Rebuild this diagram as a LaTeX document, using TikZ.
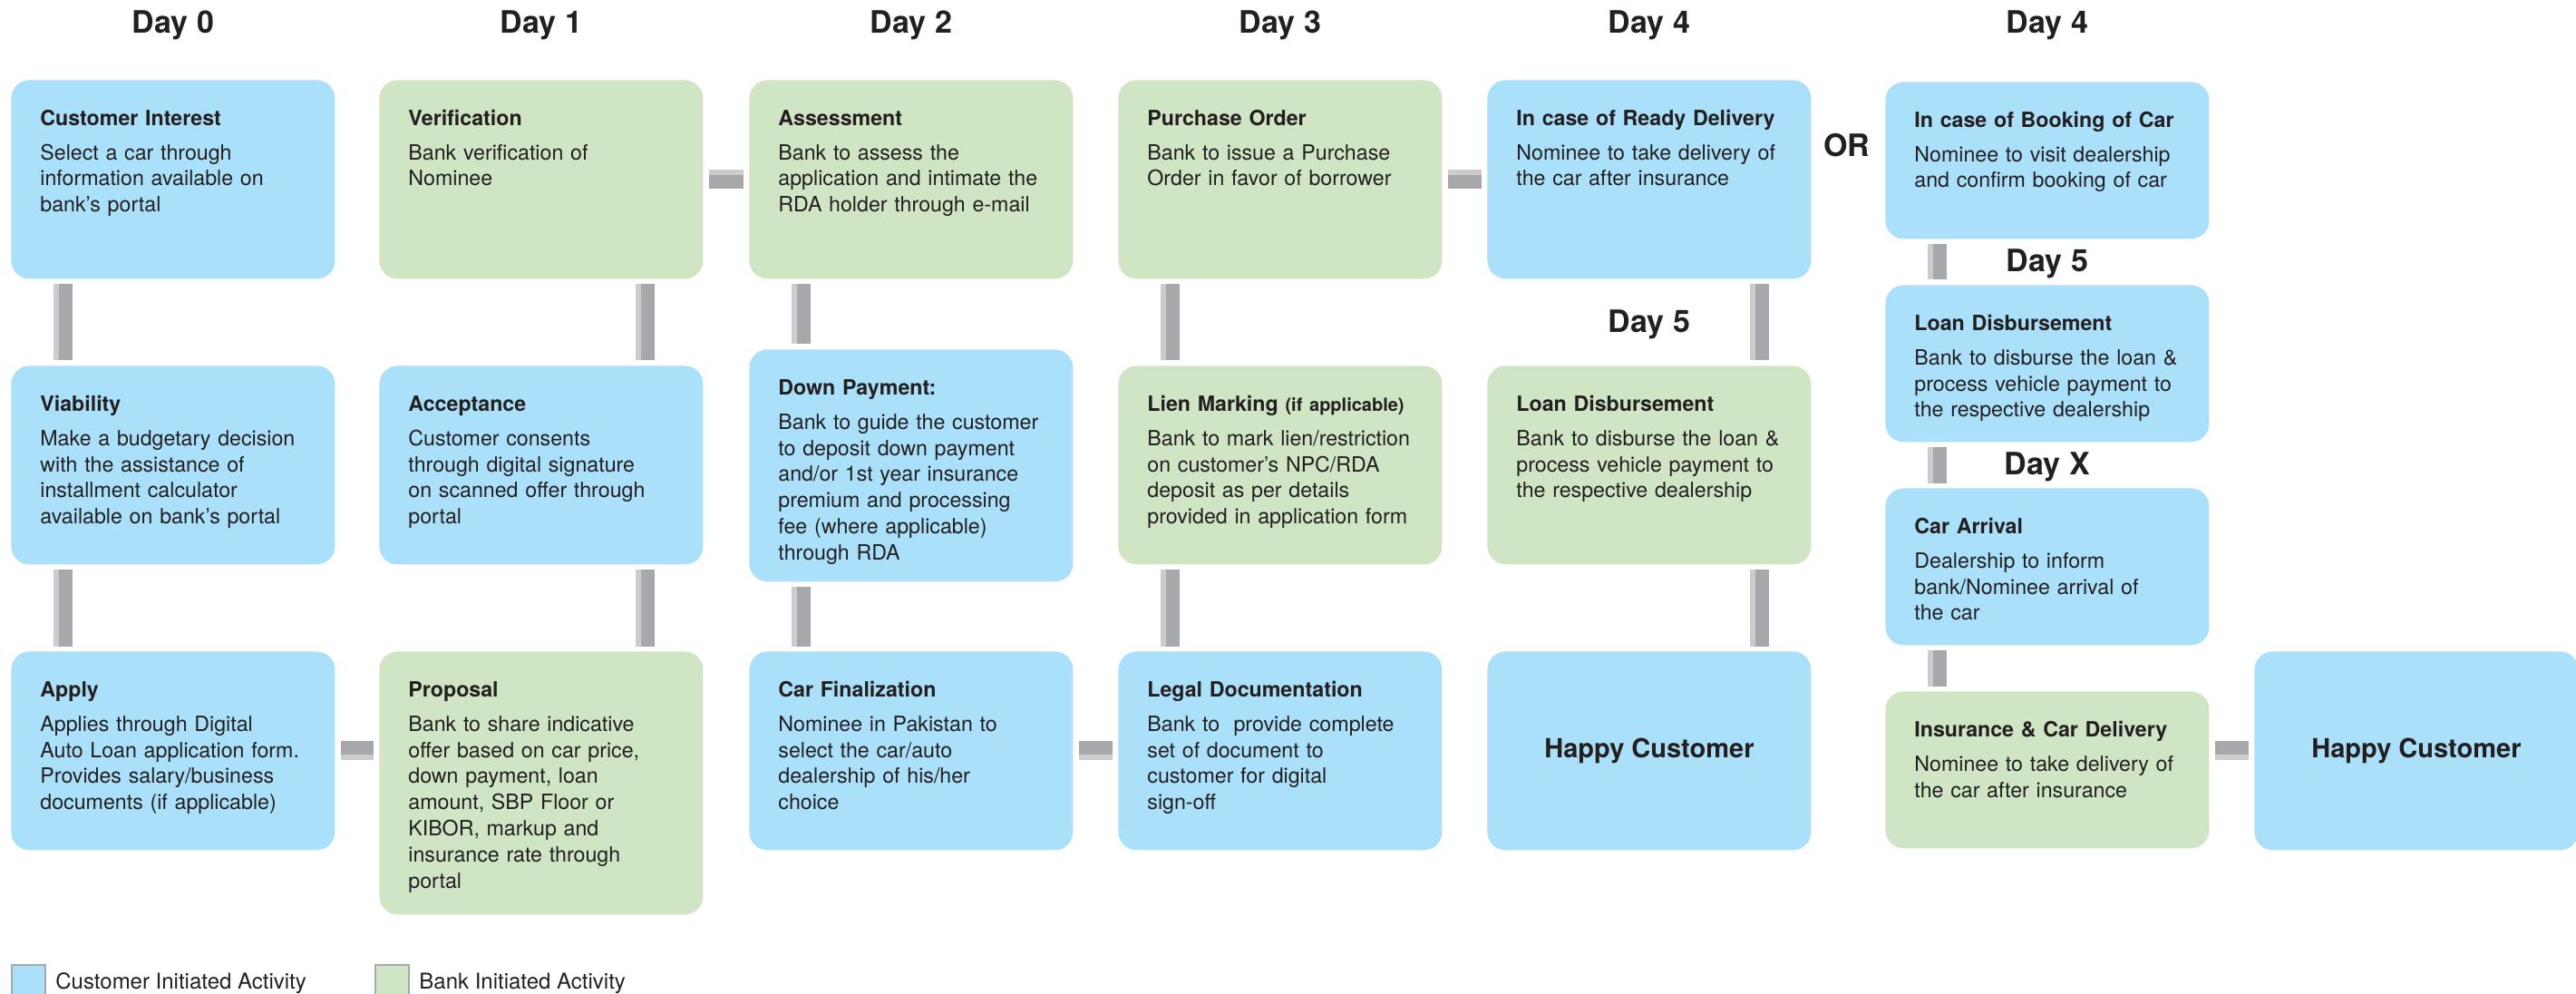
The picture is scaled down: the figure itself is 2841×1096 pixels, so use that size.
\documentclass[tikz,border=0pt]{standalone}
\usepackage{fontspec}
\setmainfont{TeX Gyre Heros}
\usetikzlibrary{positioning}

\definecolor{custblue}{HTML}{AAE0FA}
\definecolor{bankgreen}{HTML}{CFE5C3}
\definecolor{bargray}{HTML}{A7A8AB}
\definecolor{barlight}{HTML}{CBCCCE}
\definecolor{ink}{HTML}{231F20}

\begin{document}
\begin{tikzpicture}[x=0.5pt,y=-0.5pt]
\useasboundingbox (0,0) rectangle (2841,1096);

\tikzstyle{block} = [rectangle, rounded corners=10pt, anchor=north west,
text width=146.5pt, inner xsep=16pt, inner ysep=12pt, align=left,
text height=13pt, text depth=72.5pt, text=ink,
font=\fontsize{11.6}{14.4}\selectfont]
\tikzstyle{cust} = [block, fill=custblue]
\tikzstyle{bank} = [block, fill=bankgreen]
\tikzstyle{happy} = [rectangle, rounded corners=10pt, anchor=north west, fill=custblue,
minimum width=178.5pt, minimum height=109.5pt, text=ink,
font=\fontsize{14.5}{17}\selectfont\bfseries]
\tikzstyle{day} = [anchor=base, inner sep=0pt, text=ink, font=\fontsize{17}{20}\selectfont\bfseries]
\tikzstyle{vlink} = [draw=bargray, line width=10.5pt, shorten <=2.75pt, shorten >=2.75pt,
postaction={draw=barlight, line width=3pt, transform canvas={xshift=-3.75pt}}]
\tikzstyle{hlink_top} = [draw=bargray, line width=10.5pt, shorten <=3pt, shorten >=3pt,
postaction={draw=barlight, line width=3pt, transform canvas={yshift=3.75pt}}]
\tikzstyle{hlink_bot} = [draw=bargray, line width=10.5pt, shorten <=3pt, shorten >=3pt,
postaction={draw=barlight, line width=3pt, transform canvas={yshift=-3.75pt}}]
\tikzstyle{key} = [rectangle, anchor=north west, draw=bargray, line width=0.75pt,
minimum width=18.5pt, minimum height=24pt, inner sep=0pt]
\tikzstyle{keytext} = [anchor=base west, inner sep=0pt, text=ink, font=\fontsize{12}{14}\selectfont]

% column 1
\node[cust] (interest) at (12,88) {\textbf{Customer Interest}\\[4.5pt]
Select a car through\\ information available on\\ bank's portal};
\node[cust] (viability) at (12,403) {\textbf{Viability}\\[4.5pt]
Make a budgetary decision\\ with the assistance of\\ installment calculator\\ available on bank's portal};
\node[cust] (apply) at (12,718) {\textbf{Apply}\\[4.5pt]
Applies through Digital\\ Auto Loan application form.\\ Provides salary/business\\ documents (if applicable)};

% column 2
\node[bank] (verify) at (418,88) {\textbf{Verification}\\[4.5pt]
Bank verification of\\ Nominee};
\node[cust] (accept) at (418,403) {\textbf{Acceptance}\\[4.5pt]
Customer consents\\ through digital signature\\ on scanned offer through\\ portal};
\node[bank, text depth=108pt] (proposal) at (418,718) {\textbf{Proposal}\\[4.5pt]
Bank to share indicative\\ offer based on car price,\\ down payment, loan\\ amount, SBP Floor or\\
KIBOR, markup and\\ insurance rate through\\ portal};

% column 3
\node[bank] (assess) at (826,88) {\textbf{Assessment}\\[4.5pt]
Bank to assess the\\ application and intimate the\\ RDA holder through e-mail};
\node[cust, text depth=91pt] (down_pay) at (826,385) {\textbf{Down Payment:}\\[4.5pt]
Bank to guide the customer\\ to deposit down payment\\ and/or 1st year insurance\\
premium and processing\\ fee (where applicable)\\ through RDA};
\node[cust] (car_final) at (826,718) {\textbf{Car Finalization}\\[4.5pt]
Nominee in Pakistan to\\ select the car/auto\\ dealership of his/her\\ choice};

% column 4
\node[bank] (purchase) at (1233,88) {\textbf{Purchase Order}\\[4.5pt]
Bank to issue a Purchase\\ Order in favor of borrower};
\node[bank] (lien) at (1233,403) {\textbf{Lien Marking} {\fontsize{10}{12}\selectfont\bfseries(if applicable)}\\[4.5pt]
Bank to mark lien/restriction\\ on customer's NPC/RDA\\ deposit as per details\\ provided in application form};
\node[cust] (legal) at (1233,718) {\textbf{Legal Documentation}\\[4.5pt]
Bank to \ provide complete\\ set of document to\\ customer for digital\\ sign-off};

% column 5
\node[cust] (ready) at (1640,88) {\textbf{In case of Ready Delivery}\\[4.5pt]
Nominee to take delivery of\\ the car after insurance};
\node[bank] (disburse) at (1640,403) {\textbf{Loan Disbursement}\\[4.5pt]
Bank to disburse the loan \&\\ process vehicle payment to\\ the respective dealership};
\node[happy] (happy) at (1640,718) {Happy Customer};

% column 6
\node[cust, text depth=49.5pt] (booking) at (2079,90) {\textbf{In case of Booking of Car}\\[4.5pt]
Nominee to visit dealership\\ and confirm booking of car};
\node[cust, text depth=49.5pt] (disburse2) at (2079,314) {\textbf{Loan Disbursement}\\[4.5pt]
Bank to disburse the loan \&\\ process vehicle payment to\\ the respective dealership};
\node[cust, text depth=49.5pt] (arrival) at (2079,538) {\textbf{Car Arrival}\\[4.5pt]
Dealership to inform\\ bank/Nominee arrival of\\ the car};
\node[bank, text depth=49.5pt] (delivery) at (2079,762) {\textbf{Insurance \& Car Delivery}\\[4.5pt]
Nominee to take delivery of\\ the car after insurance};
\node[happy] (happy2) at (2486,718) {Happy Customer};

% day labels
\node[day] (day0) at (interest.north |- 0,37) {Day 0};
\node[day] (day1) at (verify.north |- 0,37) {Day 1};
\node[day] (day2) at (assess.north |- 0,37) {Day 2};
\node[day] (day3) at (purchase.north |- 0,37) {Day 3};
\node[day] (day4) at (ready.north |- 0,37) {Day 4};
\node[day] (day4b) at (booking.north |- 0,37) {Day 4};
\node[day] (day5) at (ready.south |- 0,367) {Day 5};
\node[day] (day5b) at (booking.south |- 0,300) {Day 5};
\node[day] (dayx) at (booking.south |- 0,523) {Day X};
\node[day] (or) at (2037,173) {OR};

% links
\draw[vlink] ([xshift=28.75pt]interest.south west) -- ([xshift=28.75pt]viability.north west);
\draw[vlink] ([xshift=28.75pt]viability.south west) -- ([xshift=28.75pt]apply.north west);
\draw[hlink_bot] (apply.east) -- (proposal.west |- apply.east);
\draw[vlink] ([xshift=-32pt]proposal.north east) -- ([xshift=-32pt]accept.south east);
\draw[vlink] ([xshift=-32pt]accept.north east) -- ([xshift=-32pt]verify.south east);
\draw[hlink_top] (verify.east) -- (assess.west);
\draw[vlink] ([xshift=28.75pt]assess.south west) -- ([xshift=28.75pt]down_pay.north west);
\draw[vlink] ([xshift=28.75pt]down_pay.south west) -- ([xshift=28.75pt]car_final.north west);
\draw[hlink_bot] (car_final.east) -- (legal.west);
\draw[vlink] ([xshift=28.75pt]legal.north west) -- ([xshift=28.75pt]lien.south west);
\draw[vlink] ([xshift=28.75pt]lien.north west) -- ([xshift=28.75pt]purchase.south west);
\draw[hlink_top] (purchase.east) -- (ready.west);
\draw[vlink] ([xshift=-28.75pt]ready.south east) -- ([xshift=-28.75pt]disburse.north east);
\draw[vlink] ([xshift=-28.75pt]disburse.south east) -- ([xshift=-28.75pt]happy.north east);
\draw[vlink] ([xshift=28.75pt]booking.south west) -- ([xshift=28.75pt]disburse2.north west);
\draw[vlink] ([xshift=28.75pt]disburse2.south west) -- ([xshift=28.75pt]arrival.north west);
\draw[vlink] ([xshift=28.75pt]arrival.south west) -- ([xshift=28.75pt]delivery.north west);
\draw[hlink_bot] (delivery.east |- happy2.west) -- (happy2.west);

% legend
\node[key, fill=custblue] (key_cust) at (12,1063) {};
\node[keytext] (key_cust_text) at (61,1090) {Customer Initiated Activity};
\node[key, fill=bankgreen] (key_bank) at (413,1063) {};
\node[keytext] (key_bank_text) at (462,1090) {Bank Initiated Activity};
\end{tikzpicture}
\end{document}
